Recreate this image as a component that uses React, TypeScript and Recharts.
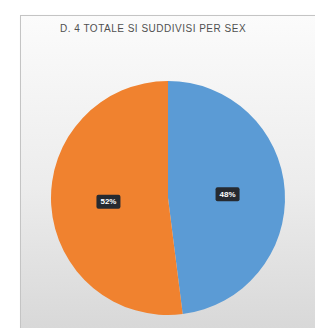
import React from 'react';
import { PieChart, Pie, Cell, Legend } from 'recharts';

const categories = ['Maschi', 'Femmine'];
const values = [48, 52];
const colors = ['#5B9BD5', '#F0822F'];
const title = 'D. 4 TOTALE SI SUDDIVISI PER SEX';

const data = categories.map((name, i) => ({ name, value: values[i] }));

const RADIAN = Math.PI / 180;
const renderLabel = (props: any) => {
  const { cx, cy, midAngle, outerRadius, percent } = props;
  const r = outerRadius * 0.51;
  const x = cx + r * Math.cos(-midAngle * RADIAN);
  const y = cy + r * Math.sin(-midAngle * RADIAN);
  const txt = `${Math.round(percent * 100)}%`;
  return (
    <g>
      <rect x={x - 12} y={y - 7} width={24} height={14} rx={2} fill="#262a30" />
      <text x={x} y={y} fill="#ffffff" fontSize={8} fontWeight="bold" textAnchor="middle" dominantBaseline="central" fontFamily="Liberation Sans, Arial, sans-serif">
        {txt}
      </text>
    </g>
  );
};

export default function App() {
  return (
    <div style={{ position: 'relative', width: 323, height: 336, margin: -8, background: '#ffffff', overflow: 'hidden' }}>
      <div
        style={{
          position: 'absolute',
          left: 20,
          top: 15,
          width: 320,
          height: 314,
          border: '1px solid #c4c4c4',
          background: 'linear-gradient(to bottom, #fbfbfb 0%, #ececec 55%, #d8d8d8 100%)',
          boxShadow: '1px 1px 2px rgba(0,0,0,0.15)',
        }}
      />
      <div
        style={{
          position: 'absolute',
          left: 60,
          top: 23,
          fontFamily: 'Liberation Sans, Arial, sans-serif',
          fontSize: 10,
          color: '#505050',
          whiteSpace: 'nowrap',
          letterSpacing: 0.5,
        }}
      >
        {title}
      </div>
      <div style={{ position: 'absolute', left: 0, top: 0 }}>
        <PieChart width={323} height={336} margin={{ top: 0, right: 0, bottom: 0, left: 0 }}>
          <Pie
            data={data}
            dataKey="value"
            nameKey="name"
            cx={168}
            cy={198}
            outerRadius={117}
            startAngle={90}
            endAngle={-270}
            stroke="none"
            label={renderLabel}
            labelLine={false}
            isAnimationActive={false}
          >
            {data.map((d, i) => (
              <Cell key={d.name} fill={colors[i]} />
            ))}
          </Pie>
          <Legend
            layout="vertical"
            align="right"
            verticalAlign="top"
            iconType="square"
            iconSize={4}
            wrapperStyle={{ left: 315, right: 'auto', top: 178, width: 60, fontSize: 8, fontFamily: 'Liberation Sans, Arial, sans-serif', lineHeight: '9px' }}
            formatter={(v: string) => <span style={{ color: '#595959' }}>{v}</span>}
          />
        </PieChart>
      </div>
    </div>
  );
}
